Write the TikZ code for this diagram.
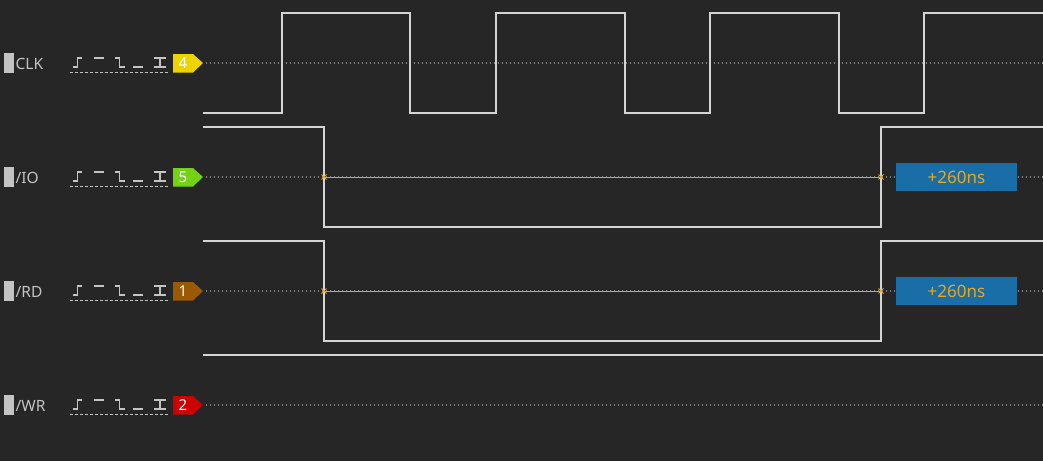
\documentclass[tikz,border=0pt]{standalone}
\usepackage{fontspec}
\setmainfont{Noto Sans}
\definecolor{bg}{HTML}{262626}
\definecolor{trace}{HTML}{D4D4D4}
\definecolor{dotc}{HTML}{858585}
\definecolor{lbl}{HTML}{C4C4C4}
\definecolor{meas}{HTML}{E8A81E}
\definecolor{mbox}{HTML}{1A6EA8}
\definecolor{tagY}{HTML}{EDD400}
\definecolor{tagG}{HTML}{73D216}
\definecolor{tagB}{HTML}{9A5A05}
\definecolor{tagR}{HTML}{CC0000}
\tikzset{
  wave/.style={draw=trace, line width=1.3pt},
  guide/.style={draw=dotc, line width=1.1pt, dash pattern=on 1pt off 3pt},
  icon/.style={draw=lbl, line width=1.7pt},
  uline/.style={draw=lbl, line width=0.9pt, dash pattern=on 3pt off 2pt},
  chlabel/.style={anchor=west, text=lbl, font=\fontsize{15.5}{18}\selectfont, inner sep=0pt},
  chmark/.style={fill=lbl, draw=none},
  tagnum/.style={text=white, font=\fontsize{15}{18}\selectfont, inner sep=0pt},
  measline/.style={draw=meas, line width=1pt},
  measx/.style={draw=meas, line width=0.8pt},
  measbox/.style={fill=mbox, draw=none, minimum width=121pt, minimum height=28.5pt, inner sep=0pt, text=meas, font=\fontsize{17}{18}\selectfont},
}
\newcommand{\chrow}[4]{% y, label, tag color, number
  \fill[chmark] (4,#1-10) rectangle (14,#1+10);
  \node[chlabel] (lab#4) at (15.5,#1+0.5) {#2};
  % trigger icons
  \draw[icon] (73,#1+4) -- (77.5,#1+4) -- (77.5,#1-5) -- (82,#1-5);
  \draw[icon] (94,#1-5) -- (104,#1-5);
  \draw[icon] (115,#1-5) -- (119.5,#1-5) -- (119.5,#1+4) -- (125,#1+4);
  \draw[icon] (133,#1+4) -- (143,#1+4);
  \draw[icon] (154,#1-5) -- (166,#1-5) (160,#1-5) -- (160,#1+4) (154,#1+4) -- (166,#1+4);
  \draw[uline] (70,#1+9.5) -- (169,#1+9.5);
  \fill[#3] (173,#1-9) -- (193,#1-9) -- (203,#1) -- (193,#1+9.5) -- (173,#1+9.5) -- cycle;
  \node[tagnum] (tag#4) at (183,#1+0.5) {#4};
  \draw[guide] (206,#1) -- (1043,#1);
}
\begin{document}
\begin{tikzpicture}[x=1pt,y=-1pt]
\fill[bg] (0,0) rectangle (1043,461);
\useasboundingbox (0,0) rectangle (1043,461);

\chrow{63}{CLK}{tagY}{4}
\chrow{177}{/IO}{tagG}{5}
\chrow{291}{/RD}{tagB}{1}
\chrow{405}{/WR}{tagR}{2}

% CLK
\draw[wave] (203,113) -- (282,113) -- (282,13) -- (410,13) -- (410,113) -- (496,113) -- (496,13)
  -- (625,13) -- (625,113) -- (710,113) -- (710,13) -- (839,13) -- (839,113) -- (924,113)
  -- (924,13) -- (1043,13);
% /IO
\draw[wave] (203,127) -- (324,127) -- (324,227) -- (881,227) -- (881,127) -- (1043,127);
% /RD
\draw[wave] (203,241) -- (324,241) -- (324,341) -- (881,341) -- (881,241) -- (1043,241);
% /WR
\draw[wave] (203,355) -- (1043,355);

% measurements
\foreach \yy/\nm in {177/a,291/b}{
  \coordinate (s\nm) at (324,\yy);
  \coordinate (e\nm) at (881,\yy);
  \draw[measline] (s\nm) -- (e\nm);
  \draw[measx] ([shift={(-2.5,-2.5)}]s\nm) -- ([shift={(2.5,2.5)}]s\nm)
               ([shift={(-2.5,2.5)}]s\nm) -- ([shift={(2.5,-2.5)}]s\nm);
  \draw[measx] ([shift={(-2.5,-2.5)}]e\nm) -- ([shift={(2.5,2.5)}]e\nm)
               ([shift={(-2.5,2.5)}]e\nm) -- ([shift={(2.5,-2.5)}]e\nm);
  \node[measbox] (m\nm) at (956.5,\yy) {+260ns};
}
\end{tikzpicture}
\end{document}
